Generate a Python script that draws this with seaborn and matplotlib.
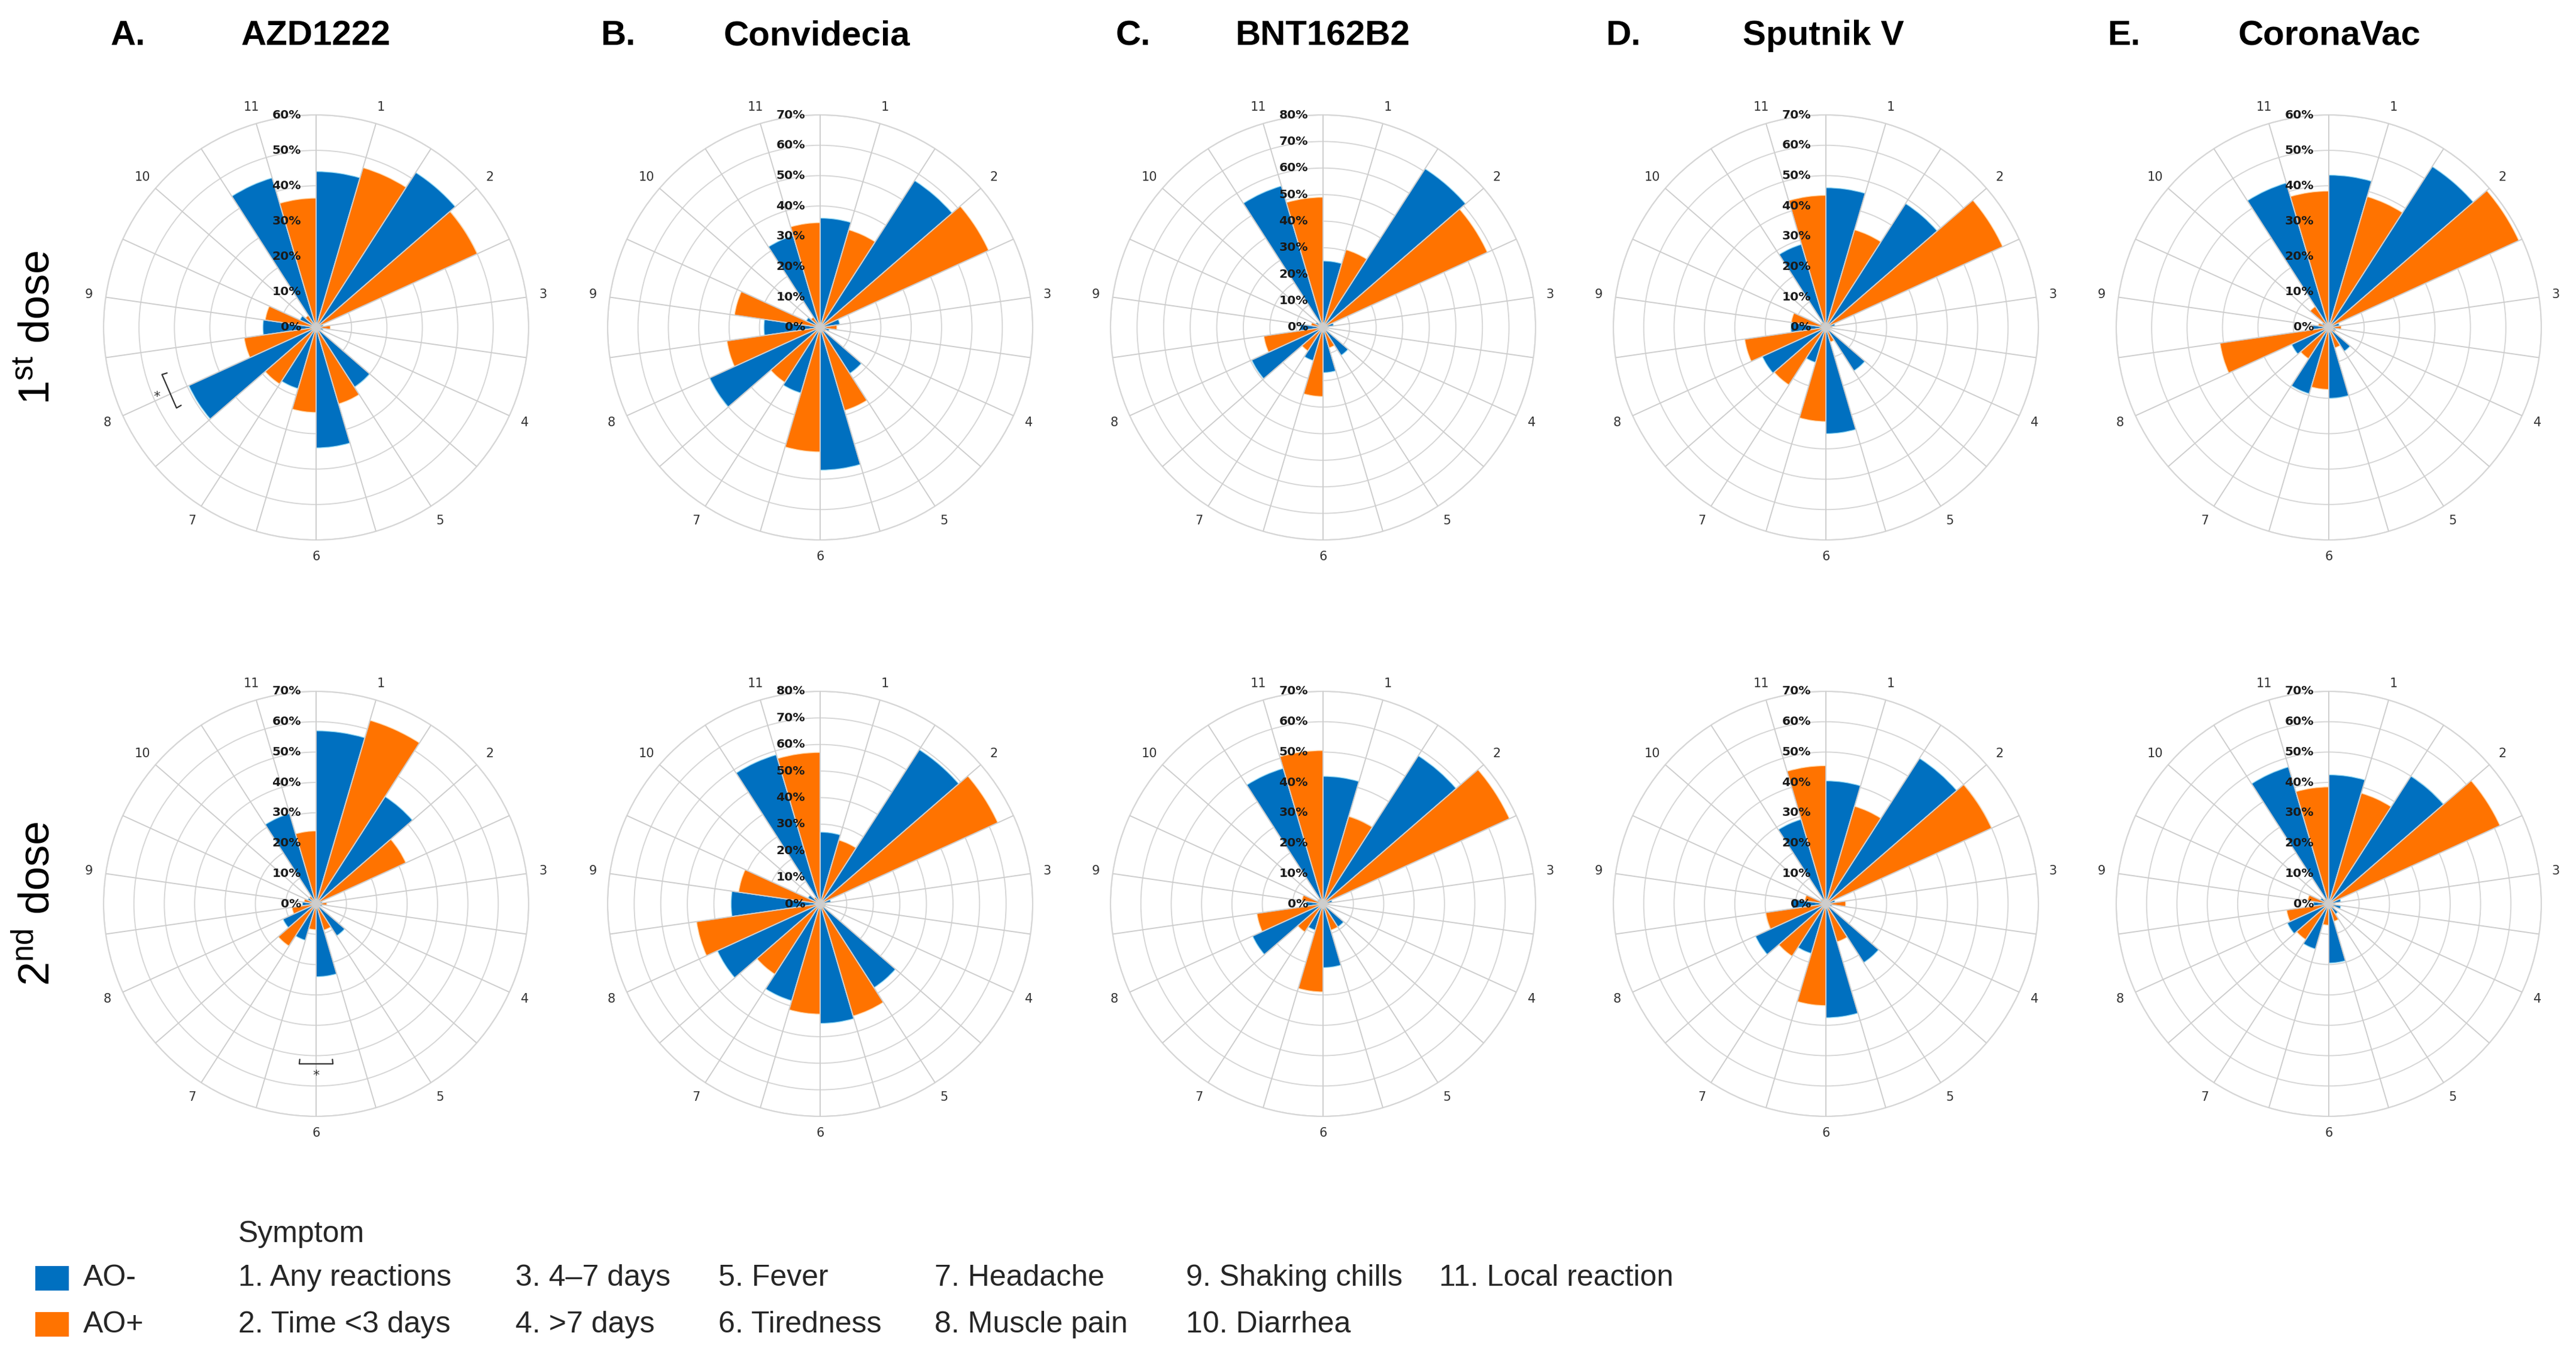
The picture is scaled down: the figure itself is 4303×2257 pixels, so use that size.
import numpy as np
import matplotlib
matplotlib.use("Agg")
import matplotlib.pyplot as plt
from matplotlib.patches import Rectangle
import seaborn as sns

# ---------------- data ----------------
symptom_ids = [str(i) for i in range(1, 12)]
symptom_names = ["Any reactions", "Time <3 days", "4\u20137 days", ">7 days", "Fever",
                 "Tiredness", "Headache", "Muscle pain", "Shaking chills", "Diarrhea",
                 "Local reaction"]
vaccines = ["AZD1222", "Convidecia", "BNT162B2", "Sputnik V", "CoronaVac"]
letters = ["A.", "B.", "C.", "D.", "E."]
group_labels = ["AO-", "AO+"]
dose_labels = [r"1$^{\mathrm{st}}$ dose", r"2$^{\mathrm{nd}}$ dose"]
rmax_dose1 = [60, 70, 80, 70, 60]
rmax_dose2 = [70, 80, 70, 70, 70]

azd_d1_neg = [44, 52, 2, 2, 20, 34, 18, 39.5, 15, 5, 44]
azd_d1_pos = [47, 50, 4, 1, 22.5, 24, 19, 20.5, 14.5, 4, 36.5]
azd_d2_neg = [57, 42, 2, 2, 12.5, 24, 12.5, 12, 4.5, 3, 31]
azd_d2_pos = [63, 32.5, 3.5, 1, 9, 8.5, 16.5, 8, 4, 3, 24]
con_d1_neg = [36, 57.5, 6.5, 3, 18, 47, 22.5, 40, 18.5, 5, 31.5]
con_d1_pos = [33.5, 61, 5.5, 2, 28.5, 41, 21.5, 31, 28.5, 4, 34.5]
con_d2_neg = [27, 69, 4, 2, 37.5, 45, 38, 42.5, 33.5, 5, 58.5]
con_d2_pos = [25, 73.5, 2, 2, 44, 41.5, 31.5, 47, 31, 3, 57]
bnt_d1_neg = [25, 71, 4, 1, 12.5, 17, 13, 29.5, 8.5, 3, 55.5]
bnt_d1_pos = [30.5, 68, 2, 1, 8, 26, 10.5, 22.5, 4.5, 2, 49]
bnt_d2_neg = [42, 58, 3, 1, 9, 21, 9, 25.5, 5.5, 2, 46.5]
bnt_d2_pos = [30, 67.5, 2, 1, 9, 29, 11, 22, 7, 2, 50.5]
spu_d1_neg = [46, 48.5, 3, 1, 17, 35, 12, 23, 11.5, 2, 28.5]
spu_d1_pos = [33.5, 64, 2, 1, 5, 31, 22.5, 27, 11.5, 2, 43.5]
spu_d2_neg = [40.5, 57, 3, 2, 23, 37.5, 17, 25.5, 11, 2, 29]
spu_d2_pos = [33.5, 60, 6.5, 1, 13, 33.5, 20.5, 20, 7, 2, 45.5]
cor_d1_neg = [43, 54, 3, 2, 8, 20, 19.5, 11.5, 4.5, 2, 42.5]
cor_d1_pos = [38.5, 59, 3.5, 2, 6, 17.5, 10.5, 31, 3, 7, 38.5]
cor_d2_neg = [42.5, 50, 4, 4, 4, 19.5, 15.5, 15, 5, 3, 47]
cor_d2_pos = [38, 62, 2, 2, 6, 7, 14, 14, 7, 2, 38.5]

dose1 = [(azd_d1_neg, azd_d1_pos), (con_d1_neg, con_d1_pos), (bnt_d1_neg, bnt_d1_pos),
         (spu_d1_neg, spu_d1_pos), (cor_d1_neg, cor_d1_pos)]
dose2 = [(azd_d2_neg, azd_d2_pos), (con_d2_neg, con_d2_pos), (bnt_d2_neg, bnt_d2_pos),
         (spu_d2_neg, spu_d2_pos), (cor_d2_neg, cor_d2_pos)]

# ---------------- style ----------------
sns.set_theme(style="white")
plt.rcParams['font.family'] = ['Liberation Sans', 'DejaVu Sans']
plt.rcParams['mathtext.fontset'] = 'custom'
plt.rcParams['mathtext.rm'] = 'Liberation Sans'
plt.rcParams['mathtext.it'] = 'Liberation Sans:italic'
plt.rcParams['mathtext.bf'] = 'Liberation Sans:bold'

palette = sns.color_palette(["#0070C0", "#FF7300"])
BLUE, ORANGE = palette[0], palette[1]
GRID = "#d6d6d6"

W, H, DPI = 4303, 2257, 200
fig = plt.figure(figsize=(W / DPI, H / DPI), dpi=DPI)
fig.patch.set_facecolor("white")

R_px = 355
col_cx = [528, 1370, 2210, 3050, 3890]
row_cy = [547, 1510]
aw, ah = 2 * R_px / W, 2 * R_px / H

n = len(symptom_ids)
width = 2 * np.pi / (2 * n)
theta_neg = np.arange(n) * 2 * np.pi / n
theta_pos = theta_neg + width

axes = {}
for r, (dose, rmaxes) in enumerate([(dose1, rmax_dose1), (dose2, rmax_dose2)]):
    for c, ((neg, pos), rmax) in enumerate(zip(dose, rmaxes)):
        cx = col_cx[c] / W
        cy = 1 - row_cy[r] / H
        ax = fig.add_axes([cx - aw / 2, cy - ah / 2, aw, ah], projection='polar')
        axes[(r, c)] = ax
        ax.set_theta_zero_location('N')
        ax.set_theta_direction(-1)
        ax.set_ylim(0, rmax)
        ax.set_axisbelow(True)
        ax.bar(theta_neg, neg, width=width, align='edge', color=BLUE,
               edgecolor="#8fd6f2", linewidth=0.5, zorder=2)
        ax.bar(theta_pos, pos, width=width, align='edge', color=ORANGE,
               edgecolor="#ffd7a8", linewidth=0.5, zorder=2)
        ticks = list(range(0, rmax + 1, 10))
        ax.set_yticks(ticks)
        ax.set_yticklabels([])
        ax.set_xticks([])
        ax.yaxis.grid(True, color=GRID, linewidth=0.7)
        ax.xaxis.grid(False)
        ax.spines['polar'].set_color(GRID)
        ax.spines['polar'].set_linewidth(0.8)
        # spokes on top of bars
        for t in np.arange(2 * n) * width:
            ax.plot([t, t], [0, rmax], color="#cdcdcd", linewidth=0.7, zorder=3)
        # radial tick labels
        for v in ticks:
            ax.annotate(f"{v}%", xy=(0, v), xytext=(-9, 0), textcoords='offset points',
                        ha='right', va='center', fontsize=7.3, fontweight='bold',
                        family='DejaVu Sans', color='#1a1a1a', zorder=6,
                        annotation_clip=False)
        # category labels
        for k, lab in enumerate(symptom_ids):
            ax.text(theta_neg[k] + width, 1.08 * rmax, lab, ha='center', va='center',
                    fontsize=7.5, family='DejaVu Sans', color='#333333', clip_on=False)

# significance brackets (panel A)
ax = axes[(0, 0)]
ax.plot(np.deg2rad([240, 240, 253, 253]), [44, 45.5, 45.5, 44], color='#333333',
        linewidth=0.8, zorder=5, clip_on=False)
ax.text(np.deg2rad(246.5), 49, "*", ha='center', va='center', fontsize=8,
        family='DejaVu Sans', color='#333333')
ax = axes[(1, 0)]
ax.plot(np.deg2rad([174, 174, 186, 186]), [51.5, 53, 53, 51.5], color='#333333',
        linewidth=0.8, zorder=5, clip_on=False)
ax.text(np.deg2rad(180), 56.5, "*", ha='center', va='center', fontsize=8,
        family='DejaVu Sans', color='#333333')

# column titles
letter_x = [214, 1032, 1893, 2711, 3548]
title_x = [527, 1364, 2209, 3046, 3891]
for L, lx, name, tx in zip(letters, letter_x, vaccines, title_x):
    fig.text(lx / W, 1 - 60 / H, L, ha='center', va='center', fontsize=21,
             fontweight='bold', color='black')
    fig.text(tx / W, 1 - 60 / H, name, ha='center', va='center', fontsize=21,
             fontweight='bold', color='black')

# row labels
for lab, cy in zip(dose_labels, row_cy):
    fig.text(63 / W, 1 - cy / H, lab, rotation=90, ha='center', va='center',
             fontsize=26, color='black')

# legend
fig.add_artist(Rectangle((59 / W, 1 - 2156 / H), 56 / W, 41 / H, transform=fig.transFigure,
                         facecolor=BLUE, edgecolor='none'))
fig.add_artist(Rectangle((59 / W, 1 - 2233 / H), 56 / W, 41 / H, transform=fig.transFigure,
                         facecolor=ORANGE, edgecolor='none'))
fig.text(139 / W, 1 - 2135 / H, group_labels[0], ha='left', va='center', fontsize=18)
fig.text(139 / W, 1 - 2213 / H, group_labels[1], ha='left', va='center', fontsize=18)
fig.text(398 / W, 1 - 2062 / H, "Symptom", ha='left', va='center', fontsize=18)
item_x = [398, 861, 1200, 1561, 1981, 2404]
for i, name in enumerate(symptom_names):
    col = i // 2
    yy = 2135 if i % 2 == 0 else 2213
    fig.text(item_x[col] / W, 1 - yy / H, f"{i + 1}. {name}", ha='left', va='center',
             fontsize=18)

fig.savefig("out.png", dpi=DPI, facecolor="white")
